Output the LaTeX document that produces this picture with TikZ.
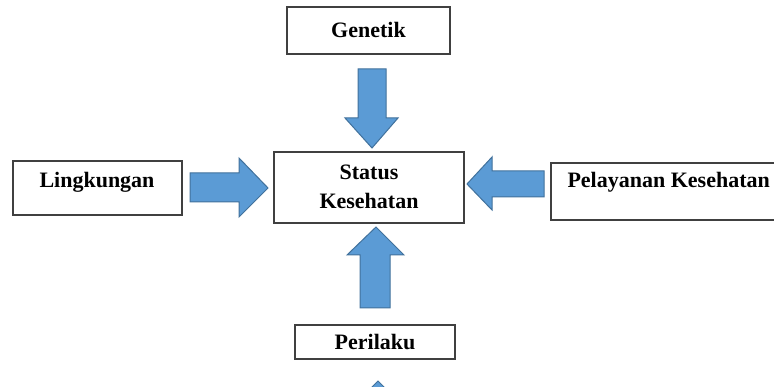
\documentclass[tikz,border=0pt]{standalone}
\usepackage{fontspec}
\setmainfont{Liberation Serif}
\begin{document}
\begin{tikzpicture}[x=1pt,y=-1pt,
  box/.style={draw=black!75,line width=1.3pt,fill=white,inner sep=0pt},
  lbl/.style={font=\fontsize{22}{29.5}\selectfont\bfseries,align=center},
  blockarrow/.style={fill=arrowfill,draw=arrowedge,line width=1pt,line join=miter}]
\definecolor{arrowfill}{HTML}{5B9BD5}
\definecolor{arrowedge}{HTML}{41719C}
\useasboundingbox (0,0) rectangle (774,387);
\clip (0,0) rectangle (774,387);
% boxes
\draw[box] (287,7) rectangle (450,54);
\node[lbl] (gen) at (368.5,30) {Genetik};
\draw[box] (13,161) rectangle (182,215);
\node[lbl] (ling) at (97,182) {Lingkungan};
\draw[box] (274,152) rectangle (464,223);
\node[lbl] (stat) at (369,187) {Status\\Kesehatan};
\draw[box] (551,163) rectangle (790,220);
\node[lbl,anchor=west] (pel) at (564,182) {Pelayanan Kesehatan};
\draw[box] (295,325) rectangle (455,359);
\node[lbl] (per) at (375,342) {Perilaku};
% block arrows
\draw[blockarrow] (358,69) -- (386,69) -- (386,118) -- (398,118) -- (372,148) -- (345,118) -- (358,118) -- cycle;
\draw[blockarrow] (190,173) -- (239,173) -- (239,158) -- (268,188) -- (239,217) -- (239,202) -- (190,202) -- cycle;
\draw[blockarrow] (544,171) -- (492,171) -- (492,157) -- (467,184) -- (492,210) -- (492,197) -- (544,197) -- cycle;
\draw[blockarrow] (360,308) -- (360,255) -- (347,255) -- (376,227) -- (404,255) -- (390,255) -- (390,308) -- cycle;
\draw[blockarrow] (378,381) -- (392,395) -- (364,395) -- cycle;
\end{tikzpicture}
\end{document}
